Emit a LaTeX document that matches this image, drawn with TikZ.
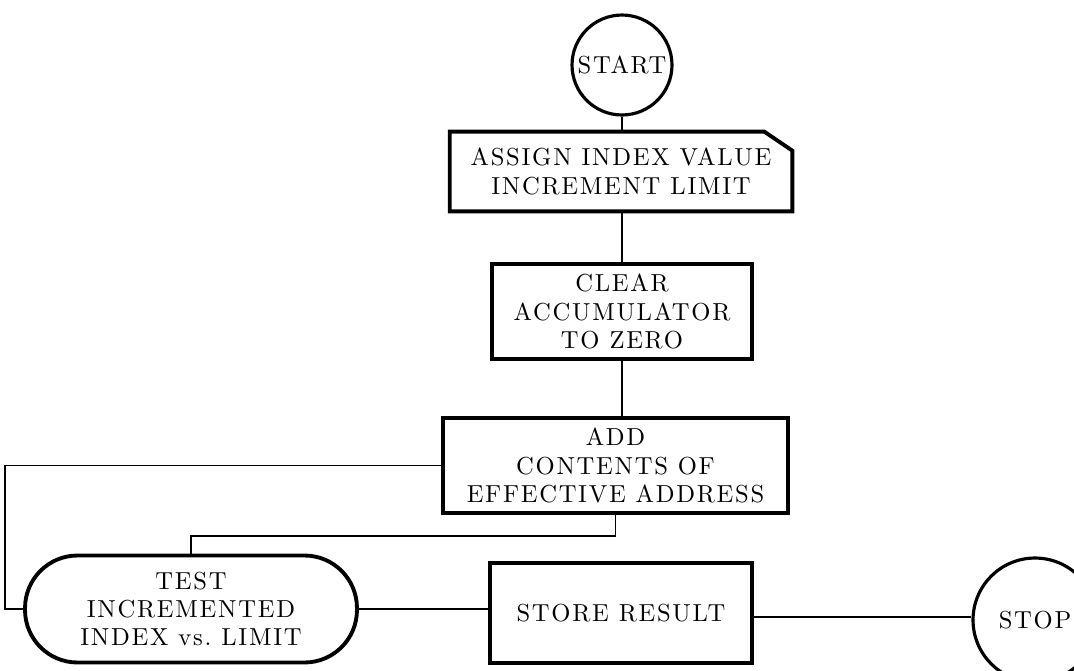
\documentclass[tikz,border=0pt]{standalone}
\usepackage{fontspec}
\newfontfamily\flowfont{lmroman10-regular.otf}[LetterSpace=7]
\tikzset{
  flowtext/.style={font=\flowfont\fontsize{14}{16}\selectfont, align=center, inner sep=0pt},
  flowbox/.style={flowtext, draw, rectangle, line width=2.2pt},
  flowterm/.style={flowtext, draw, circle, line width=1.8pt},
  flowline/.style={line width=1.1pt}
}

\begin{document}
\begin{tikzpicture}[x=0.02cm, y=-0.02cm]
\useasboundingbox (0,0) rectangle (1074,670);
% blocos do fluxograma
\node [flowterm, minimum size=2cm] (start) at (622,65) {START};
\node [flowtext, minimum width=6.84cm, minimum height=1.58cm] (assign) at (621,171.5) {ASSIGN INDEX VALUE\\INCREMENT LIMIT};
\draw [line width=2.2pt] (assign.south west) -- (assign.north west) -- ([xshift=-0.56cm]assign.north east) -- ([yshift=-0.38cm]assign.north east) -- (assign.south east) -- cycle;
\node [flowbox, minimum width=5.2cm, minimum height=1.9cm] (clear) at (622,311.5) {CLEAR\\ACCUMULATOR\\TO ZERO};
\node [flowbox, minimum width=6.9cm, minimum height=1.9cm] (add) at (615.5,465.5) {ADD\\CONTENTS OF\\EFFECTIVE ADDRESS};
\node [flowbox, rounded corners=1.05cm, minimum width=6.64cm, minimum height=2.14cm] (test) at (191,609) {TEST\\INCREMENTED\\INDEX vs.\ LIMIT};
\node [flowbox, minimum width=5.24cm, minimum height=2cm] (store) at (621,613) {STORE RESULT};
\node [flowterm, minimum size=2.48cm] (stop) at (1035,620) {STOP};

% ligacoes
\draw [flowline] (start.south) -- (start.south |- assign.north);
\draw [flowline] (clear.north |- assign.south) -- (clear.north);
\draw [flowline] (clear.south) -- (clear.south |- add.north);
\draw [flowline] (add.west) -- ++(-436,0) |- (test.west);
\draw [flowline] (add.south) -- ++(0,21) -| (test.north);
\draw [flowline] (test.east) -- (test.east -| store.west);
\draw [flowline] ([yshift=-0.08cm]store.east) -- ([yshift=-0.08cm]store.east -| stop.west);
\end{tikzpicture}
\end{document}
